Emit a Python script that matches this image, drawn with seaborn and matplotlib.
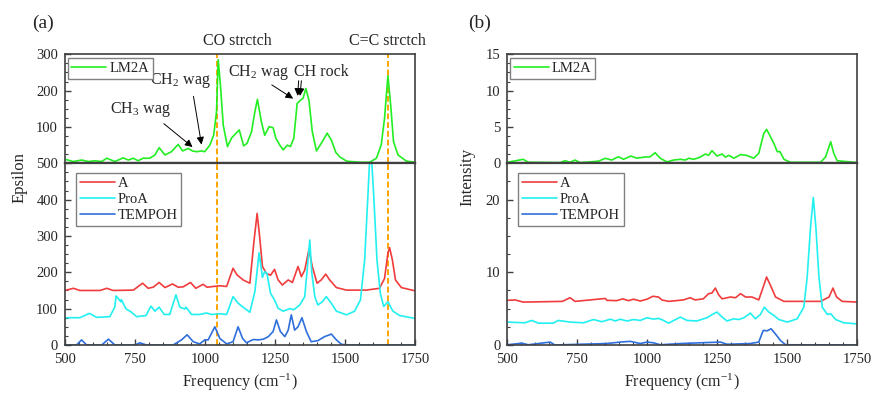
import numpy as np
import pandas as pd
import matplotlib
matplotlib.use("Agg")
import matplotlib.pyplot as plt
from matplotlib.ticker import MultipleLocator
import seaborn as sns

# ---- data ----
# (a) IR epsilon
lm2a_ir_f = [500, 530, 559, 583, 607, 631, 649, 678, 708, 726, 744, 761, 779, 803, 821, 836, 857, 880,
             904, 920, 940, 955, 970, 987, 999, 1017, 1031, 1041, 1047, 1055, 1065, 1080, 1095, 1105,
             1122, 1138, 1150, 1166, 1178, 1187, 1201, 1213, 1229, 1243, 1253, 1267, 1279, 1294, 1305,
             1317, 1329, 1341, 1350, 1360, 1371, 1383, 1398, 1419, 1436, 1451, 1467, 1481, 1505, 1552,
             1588, 1612, 1629, 1641, 1653, 1663, 1673, 1689, 1719, 1750]
lm2a_ir_v = [11, 5, 9, 5, 7, 5, 14, 5, 15, 9, 14, 7, 14, 14, 23, 43, 23, 32,
             52, 34, 41, 34, 32, 34, 32, 50, 78, 142, 285, 215, 105, 46, 70, 78,
             92, 48, 55, 87, 142, 176, 115, 77, 101, 98, 69, 50, 37, 50, 46,
             69, 165, 174, 179, 206, 174, 87, 34, 60, 83, 64, 30, 18, 6, 3,
             3, 14, 50, 124, 241, 160, 60, 23, 6, 3]

a_ir_f = [500, 530, 553, 625, 649, 672, 744, 777, 797, 815, 836, 857, 884, 904, 922, 948, 967, 993,
          1007, 1053, 1077, 1100, 1114, 1136, 1160, 1174, 1186, 1195, 1205, 1219, 1234, 1248, 1261,
          1276, 1297, 1312, 1332, 1344, 1356, 1371, 1383, 1400, 1415, 1431, 1445, 1469, 1505, 1576,
          1623, 1641, 1653, 1659, 1669, 1680, 1701, 1750]
a_ir_v = [150, 156, 150, 150, 156, 150, 151, 170, 156, 159, 172, 158, 168, 159, 160, 172, 156, 167,
          159, 163, 161, 211, 193, 179, 170, 280, 362, 298, 216, 197, 192, 208, 179,
          165, 179, 172, 216, 188, 206, 263, 216, 170, 179, 195, 179, 158, 151, 151,
          156, 183, 252, 268, 234, 179, 158, 149]

proa_ir_f = [500, 553, 587, 613, 660, 678, 682, 690, 699, 701, 718, 734, 756, 789, 807, 821, 836, 854,
             874, 896, 910, 928, 932, 952, 981, 1005, 1023, 1053, 1077, 1100, 1118, 1136, 1160, 1178,
             1193, 1205, 1213, 1221, 1234, 1248, 1261, 1279, 1302, 1317, 1338, 1356, 1368, 1374, 1381,
             1392, 1403, 1419, 1433, 1451, 1469, 1505, 1534, 1555, 1570, 1582, 1591, 1602, 1614, 1626,
             1638, 1653, 1671, 1695, 1750]
proa_ir_v = [75, 75, 87, 76, 78, 105, 135, 128, 119, 125, 99, 92, 78, 81, 107, 93, 104, 84,
             84, 138, 104, 99, 104, 84, 84, 88, 84, 86, 84, 133, 115, 104, 90, 147,
             254, 186, 202, 197, 142, 124, 101, 93, 100, 97, 110, 133, 234, 289, 200,
             133, 110, 119, 133, 115, 93, 83, 93, 124, 234, 417, 560, 417, 234, 142,
             106, 119, 93, 81, 73]

tempoh_ir_f = [500, 541, 559, 577, 631, 655, 678, 750, 767, 791, 886, 916, 936, 958, 981, 999, 1011,
               1035, 1053, 1077, 1100, 1118, 1134, 1148, 1172, 1190, 1208, 1226, 1243, 1255, 1269,
               1285, 1297, 1308, 1320, 1332, 1346, 1362, 1379, 1403, 1427, 1451, 1469, 1487, 1505, 1750]
tempoh_ir_v = [0, 0, 14, 0, 0, 16, 0, 0, 6, 0, 0, 14, 28, 9, 3, 14, 14,
               50, 18, 3, 9, 50, 18, 6, 15, 14, 16, 23, 37, 69, 37,
               23, 41, 83, 41, 50, 75, 37, 9, 12, 23, 30, 14, 2, 0, 0]

# (b) Raman intensity
lm2a_ra_f = [500, 557, 575, 689, 706, 724, 742, 760, 796, 826, 850, 873, 897, 915, 941, 963, 987,
             1010, 1028, 1046, 1070, 1094, 1118, 1136, 1148, 1166, 1189, 1207, 1219, 1231, 1249, 1267,
             1279, 1291, 1309, 1333, 1354, 1380, 1398, 1416, 1426, 1440, 1452, 1464, 1474, 1488, 1511,
             1619, 1637, 1655, 1666, 1678, 1750]
lm2a_ra_v = [0.14, 0.55, 0.14, 0.1, 0.36, 0.14, 0.45, 0.1, 0.2, 0.3, 0.69, 0.45, 0.9, 0.55, 1.0, 0.7, 0.85,
             0.9, 1.46, 0.7, 0.2, 0.45, 0.55, 0.45, 0.7, 0.55, 0.85, 1.28, 1.1, 1.74, 1.0, 1.28,
             0.85, 1.1, 0.7, 1.2, 1.1, 0.7, 1.37, 4.1, 4.68, 3.66, 2.75, 1.6, 1.6, 0.55, 0.14,
             0.14, 0.9, 2.97, 1.37, 0.36, 0.1]

a_ra_f = [500, 528, 557, 697, 724, 742, 850, 856, 891, 912, 933, 951, 975, 999, 1020, 1040, 1052,
          1076, 1129, 1153, 1171, 1200, 1219, 1231, 1243, 1255, 1267, 1297, 1315, 1333, 1351, 1374,
          1398, 1416, 1426, 1440, 1458, 1488, 1619, 1649, 1663, 1676, 1696, 1750]
a_ra_v = [6.14, 6.2, 5.9, 6.0, 6.5, 6.0, 6.4, 6.14, 6.1, 6.35, 6.1, 6.3, 6.05, 6.3, 6.7, 6.6, 6.2,
          6.0, 6.2, 6.5, 6.2, 6.35, 7.06, 7.15, 7.83, 6.9, 6.35, 6.6, 6.5, 7.06, 6.6, 6.6,
          6.2, 8.2, 9.35, 8.2, 6.6, 6.0, 6.0, 6.6, 7.83, 6.6, 6.0, 5.9]

proa_ra_f = [500, 563, 587, 611, 664, 682, 724, 772, 808, 838, 868, 886, 903, 927, 951, 975, 999,
             1022, 1040, 1058, 1076, 1118, 1142, 1177, 1213, 1237, 1249, 1267, 1285, 1309, 1327, 1345,
             1362, 1368, 1386, 1404, 1418, 1434, 1452, 1470, 1500, 1535, 1559, 1571, 1583, 1593, 1602,
             1613, 1625, 1643, 1655, 1673, 1702, 1750]
proa_ra_v = [3.15, 3.05, 3.38, 3.0, 3.0, 3.38, 3.15, 3.05, 3.5, 3.2, 3.55, 3.3, 3.55, 3.3, 3.5, 3.38, 3.75,
             3.56, 3.66, 3.38, 3.0, 3.84, 3.38, 3.3, 3.75, 4.3, 4.53, 3.84, 3.3, 3.6, 3.5, 3.75,
             4.2, 4.39, 3.6, 4.2, 5.2, 4.53, 4.07, 3.5, 3.15, 3.6, 5.2, 9.35, 16.2, 20.3, 16.2,
             9.35, 5.2, 4.2, 4.3, 3.5, 3.05, 2.9]

tempoh_ra_f = [500, 552, 575, 653, 670, 760, 856, 903, 939, 975, 999, 1022, 1046, 1118, 1189, 1261,
               1285, 1368, 1398, 1414, 1428, 1442, 1458, 1476, 1494, 1750]
tempoh_ra_v = [0.03, 0.25, 0.03, 0.4, 0.0, 0.1, 0.2, 0.4, 0.5, 0.2, 0.4, 0.3, 0.03, 0.2, 0.3, 0.4,
               0.1, 0.2, 0.4, 2.0, 1.95, 2.23, 1.5, 0.6, 0.03, 0.0]

colors = {"LM2A": "#22ee22", "A": "#f03c3c", "ProA": "#22f0f0", "TEMPOH": "#2f6fdc"}
guide_lines = [1043, 1652]

sns.set_style("ticks")
plt.rcParams["font.family"] = ["Liberation Serif", "DejaVu Serif"]
plt.rcParams["mathtext.fontset"] = "stix"
plt.rcParams["xtick.direction"] = "in"
plt.rcParams["ytick.direction"] = "in"

fig = plt.figure(figsize=(8.74, 3.94), dpi=100)
L = [0.0744, 0.5804]
W = 0.4005
top_b, top_h = 0.5855, 0.2766
bot_b, bot_h = 0.1244, 0.4612

spine_col = "#404040"


def style_ax(ax):
    for s in ax.spines.values():
        s.set_color(spine_col)
        s.set_linewidth(1.2)
    ax.tick_params(which="major", length=4, width=1, color=spine_col, labelsize=10.5)
    ax.tick_params(axis="y", which="major", pad=5)
    ax.tick_params(axis="x", which="major", pad=6)
    ax.tick_params(which="minor", length=2.5, width=0.8, color=spine_col)
    ax.tick_params(top=False, right=False, which="both")


def draw(ax, series):
    for name, f, v in series:
        sns.lineplot(x=f, y=v, ax=ax, color=colors[name], lw=1.2, label=name, sort=False)


def legend(ax, anchor):
    lg = ax.legend(loc="upper left", bbox_to_anchor=anchor, fontsize=10.5, frameon=True,
                   fancybox=False, edgecolor="#808080", framealpha=1, borderaxespad=0,
                   handlelength=2.4, labelspacing=0.2, borderpad=0.25, handletextpad=0.2)
    lg.get_frame().set_linewidth(1.0)


panels = [
    dict(left=L[0], top=[("LM2A", lm2a_ir_f, lm2a_ir_v)],
         bot=[("A", a_ir_f, a_ir_v), ("ProA", proa_ir_f, proa_ir_v), ("TEMPOH", tempoh_ir_f, tempoh_ir_v)],
         tlim=300, tmaj=100, tmin=25, blim=500, bmaj=100, bmin=25, label="Epsilon", tag="(a)"),
    dict(left=L[1], top=[("LM2A", lm2a_ra_f, lm2a_ra_v)],
         bot=[("A", a_ra_f, a_ra_v), ("ProA", proa_ra_f, proa_ra_v), ("TEMPOH", tempoh_ra_f, tempoh_ra_v)],
         tlim=15, tmaj=5, tmin=1.25, blim=25, bmaj=10, bmin=2.5, label="Intensity", tag="(b)"),
]

for i, p in enumerate(panels):
    ax_t = fig.add_axes([p["left"], top_b, W, top_h])
    ax_b = fig.add_axes([p["left"], bot_b, W, bot_h])
    draw(ax_t, p["top"])
    draw(ax_b, p["bot"])
    for ax in (ax_t, ax_b):
        ax.set_xlim(500, 1750)
        ax.set_xlabel("")
        ax.set_ylabel("")
        style_ax(ax)
    ax_t.set_ylim(0, p["tlim"])
    ax_b.set_ylim(0, p["blim"])
    ax_t.yaxis.set_major_locator(MultipleLocator(p["tmaj"]))
    ax_t.yaxis.set_minor_locator(MultipleLocator(p["tmin"]))
    ax_b.yaxis.set_major_locator(MultipleLocator(p["bmaj"]))
    ax_b.yaxis.set_minor_locator(MultipleLocator(p["bmin"]))
    ax_b.xaxis.set_major_locator(MultipleLocator(250))
    ax_b.xaxis.set_minor_locator(MultipleLocator(50))
    ax_t.tick_params(axis="x", which="both", bottom=False, labelbottom=False)
    if i == 0:
        ax_t.set_yticks([100, 200, 300])
    ax_t.spines["bottom"].set_linewidth(1.6)
    ax_b.spines["top"].set_linewidth(1.6)
    legend(ax_t, (0.008, 0.965))
    legend(ax_b, (0.032, 0.945))

    cx = p["left"] + W / 2
    fig.text(cx, 0.03, r"Frequency (cm$^{\mathregular{-1}}$)", ha="center", va="center", fontsize=11.5)
    fig.text(p["left"] - (0.052 if i == 0 else 0.046), 0.55, p["label"], rotation=90,
             ha="center", va="center", fontsize=12)
    fig.text(p["left"] - 0.025 if i == 0 else p["left"] - 0.032, 0.942, p["tag"],
             ha="center", va="center", fontsize=14)

    if i == 0:
        for gx in guide_lines:
            for ax in (ax_t, ax_b):
                ax.axvline(gx, color="#ffa500", ls=(0, (3, 1.5)), lw=1.4, zorder=1)
        ax_t.text(1117, 338, "CO strctch", ha="center", va="center", fontsize=11.5, clip_on=False)
        ax_t.text(1652, 338, "C=C strctch", ha="center", va="center", fontsize=11.5, clip_on=False)
        ax_t.text(914, 229, r"CH$_{\mathregular{2}}$ wag", ha="center", va="center", fontsize=11.5)
        ax_t.text(771, 147, r"CH$_{\mathregular{3}}$ wag", ha="center", va="center", fontsize=11.5)
        ax_t.text(1190, 251, r"CH$_{\mathregular{2}}$ wag", ha="center", va="center", fontsize=11.5)
        ax_t.text(1415, 251, "CH rock", ha="center", va="center", fontsize=11.5)
        arw = dict(arrowstyle="-|>", color="black", lw=0.7, mutation_scale=11)
        ax_t.annotate("", xy=(989, 44), xytext=(957, 192), arrowprops=arw)
        ax_t.annotate("", xy=(963, 40), xytext=(845, 114), arrowprops=arw)
        ax_t.annotate("", xy=(1323, 174), xytext=(1230, 220), arrowprops=arw)
        ax_t.annotate("", xy=(1330, 178), xytext=(1335, 235), arrowprops=arw)
        ax_t.annotate("", xy=(1338, 178), xytext=(1345, 235), arrowprops=arw)

fig.savefig("out.png", dpi=100)
